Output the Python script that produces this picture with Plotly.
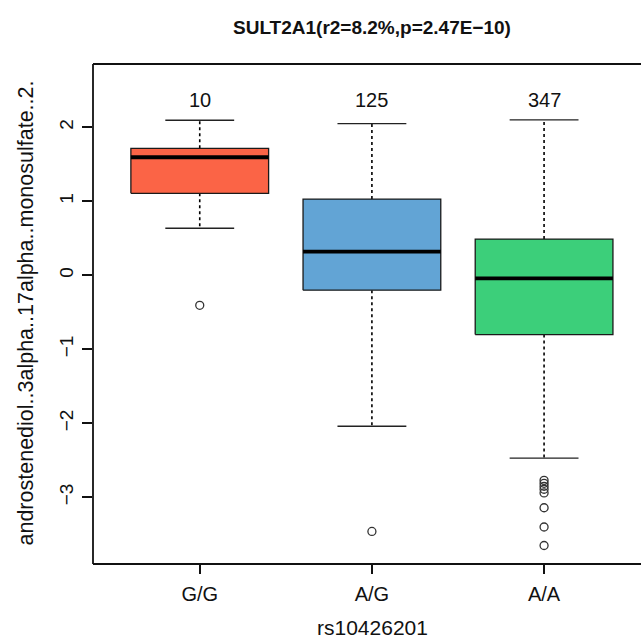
import plotly.graph_objects as go

# ---- data ----
genotypes = ["G/G", "A/G", "A/A"]
counts = [10, 125, 347]
lower_whisker = [0.635, -2.04, -2.47]
q1 = [1.108, -0.20, -0.80]
median = [1.595, 0.32, -0.04]
q3 = [1.716, 1.03, 0.49]
upper_whisker = [2.095, 2.05, 2.10]
outliers = [
    [-0.405],
    [-3.46],
    [-2.77, -2.81, -2.85, -2.89, -2.94, -3.14, -3.40, -3.65],
]
colors = ["#FB6446", "#62A4D5", "#3CCF7A"]
y_ticks = [-3, -2, -1, 0, 1, 2]

title_text = "SULT2A1(r2=8.2%,p=2.47E\u221210)"
x_title = "rs10426201"
y_title = "androstenediol..3alpha..17alpha..monosulfate..2."

FONT = "Liberation Sans, Arial, Helvetica, sans-serif"
BOXW = 0.4   # half box width
CAPW = 0.2   # half cap width

fig = go.Figure()
for i, g in enumerate(genotypes):
    c = i + 1
    fig.add_trace(go.Scatter(
        x=[c, c, None, c, c],
        y=[q3[i], upper_whisker[i], None, q1[i], lower_whisker[i]],
        mode="lines", line=dict(color="black", width=1.6, dash="3px,3px"),
        hoverinfo="skip", showlegend=False))
    fig.add_trace(go.Scatter(
        x=[c - CAPW, c + CAPW, None, c - CAPW, c + CAPW],
        y=[upper_whisker[i], upper_whisker[i], None, lower_whisker[i], lower_whisker[i]],
        mode="lines", line=dict(color="#222222", width=1.4),
        hoverinfo="skip", showlegend=False))
    fig.add_trace(go.Scatter(
        x=[c - BOXW, c + BOXW, c + BOXW, c - BOXW, c - BOXW],
        y=[q1[i], q1[i], q3[i], q3[i], q1[i]],
        mode="lines", fill="toself", fillcolor=colors[i],
        line=dict(color="#1a1a1a", width=1.3),
        hoverinfo="skip", showlegend=False))
    fig.add_trace(go.Scatter(
        x=[c - BOXW, c + BOXW], y=[median[i], median[i]],
        mode="lines", line=dict(color="black", width=3.8),
        hoverinfo="skip", showlegend=False))
    fig.add_trace(go.Scatter(
        x=[c] * len(outliers[i]), y=outliers[i], mode="markers",
        marker=dict(symbol="circle-open", size=8, color="#333333", line=dict(width=1.3)),
        hoverinfo="skip", showlegend=False))
    fig.add_annotation(x=c, y=2.37, text=str(counts[i]), showarrow=False,
                       xanchor="center", yanchor="middle",
                       font=dict(family=FONT, size=20, color="#111111"))

for x0, y0, x1, y1 in [(0, 0, 0, 1), (0, 1, 1, 1), (0, 0, 1, 0)]:
    fig.add_shape(type="line", xref="paper", yref="paper", x0=x0, y0=y0, x1=x1, y1=y1,
                  line=dict(color="#111111", width=1.8))

fig.add_annotation(xref="paper", yref="paper", x=(372 - 93) / 548, y=1 + (64 - 28) / 500,
                   xanchor="center", yanchor="middle",
                   text="<b>" + title_text + "</b>", showarrow=False,
                   font=dict(family=FONT, size=19, color="#111111"))
fig.add_annotation(xref="paper", yref="paper", x=(372 - 93) / 548, y=-(627 - 564) / 500,
                   xanchor="center", yanchor="middle",
                   text=x_title, showarrow=False,
                   font=dict(family=FONT, size=21, color="#111111"))
fig.add_annotation(xref="paper", yref="paper", x=(25 - 93) / 548, y=(564 - 313.5) / 500,
                   xanchor="center", yanchor="middle",
                   text=y_title, showarrow=False, textangle=-90,
                   font=dict(family=FONT, size=21.5, color="#111111"))

fig.update_layout(
    width=641, height=640,
    margin=dict(l=93, r=0, t=64, b=76),
    paper_bgcolor="white", plot_bgcolor="white",
    showlegend=False,
    xaxis=dict(range=[0.38, 3.563], tickvals=[1, 2, 3], ticktext=genotypes,
               showgrid=False, zeroline=False, showline=False,
               ticks="outside", ticklen=9, tickwidth=1.5, tickcolor="#111111",
               tickfont=dict(family=FONT, size=20, color="#111111"),
               ticklabelstandoff=3),
    yaxis=dict(range=[-3.90, 2.855], tickvals=y_ticks,
               ticktext=[str(v).replace("-", "\u2212") for v in y_ticks],
               showgrid=False, zeroline=False, showline=False,
               ticks="outside", ticklen=10, tickwidth=1.5, tickcolor="#111111",
               tickangle=-90,
               tickfont=dict(family=FONT, size=19, color="#111111"),
               ticklabelstandoff=1),
)

fig.write_html("out.html", config={"displayModeBar": False},
               post_script="document.body.style.margin='0px';")
